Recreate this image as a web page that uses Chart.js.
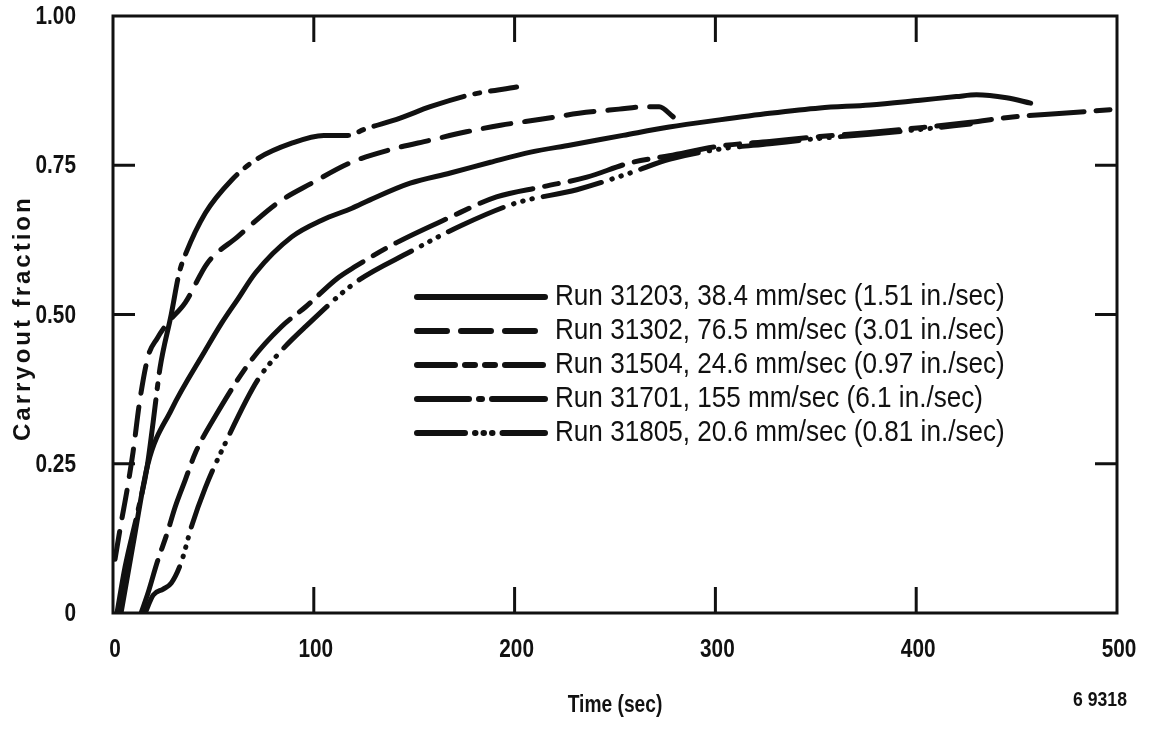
<!DOCTYPE html>
<html><head><meta charset="utf-8">
<script src="https://cdn.jsdelivr.net/npm/chart.js@4/dist/chart.umd.min.js"></script>
<style>html,body{margin:0;padding:0;background:#fff;} canvas{display:block;}</style>
</head><body>
<canvas id="c" width="1153" height="734"></canvas>
<script>
// ---- data ----
const xTickValues = [0, 100, 200, 300, 400, 500];
const xTickLabels = ['0', '100', '200', '300', '400', '500'];
const yTickValues = [0, 0.25, 0.5, 0.75, 1.0];
const yTickLabels = ['0', '0.25', '0.50', '0.75', '1.00'];
const xTitle = 'Time (sec)';
const yTitle = 'Carryout fraction';
const note = '6 9318';

const seriesLabels = [
  'Run 31203, 38.4 mm/sec (1.51 in./sec)',
  'Run 31302, 76.5 mm/sec (3.01 in./sec)',
  'Run 31504, 24.6 mm/sec (0.97 in./sec)',
  'Run 31701, 155 mm/sec (6.1 in./sec)',
  'Run 31805, 20.6 mm/sec (0.81 in./sec)'
];

const run31203_t = [4, 10, 17.4, 29, 46, 54, 62, 71, 89, 104, 119, 128, 148, 168, 188, 208, 228, 254, 277, 302, 327, 352, 377, 402, 420, 430, 445, 457];
const run31203_f = [0, 0.115, 0.25, 0.34, 0.44, 0.485, 0.525, 0.57, 0.63, 0.658, 0.678, 0.692, 0.72, 0.737, 0.755, 0.772, 0.784, 0.80, 0.814, 0.826, 0.837, 0.846, 0.851, 0.859, 0.865, 0.868, 0.863, 0.854];

const run31302_t = [1, 4, 7, 10, 13.4, 17.5, 22, 27, 36, 47, 62, 82, 99, 118, 138, 158, 176, 193, 213, 232, 252, 265, 272, 279];
const run31302_f = [0.09, 0.15, 0.206, 0.27, 0.357, 0.43, 0.46, 0.485, 0.52, 0.586, 0.63, 0.687, 0.72, 0.754, 0.776, 0.792, 0.806, 0.817, 0.827, 0.837, 0.844, 0.848, 0.848, 0.831];

const run31504_t = [14, 17.4, 22, 27, 31, 36, 41, 51, 69, 84, 96, 111.5, 120.5, 141, 166, 191, 214, 236, 257.5, 277, 302, 327, 352, 377, 402, 427, 448, 473, 500];
const run31504_f = [0, 0.033, 0.085, 0.134, 0.178, 0.223, 0.268, 0.33, 0.424, 0.48, 0.513, 0.56, 0.58, 0.62, 0.66, 0.697, 0.714, 0.73, 0.754, 0.766, 0.782, 0.79, 0.798, 0.805, 0.813, 0.822, 0.831, 0.837, 0.844];

const run31701_t = [2, 6, 12, 17, 20, 23.4, 29, 33, 36, 46, 59, 71, 89, 105, 117, 125, 143, 158, 178, 201];
const run31701_f = [0, 0.077, 0.165, 0.245, 0.32, 0.41, 0.50, 0.57, 0.60, 0.67, 0.725, 0.759, 0.787, 0.80, 0.80, 0.81, 0.829, 0.848, 0.868, 0.881];

const run31805_t = [16, 20, 25, 29, 34, 39, 46, 56, 72, 84, 96, 120.5, 148, 174, 201, 231, 257.5, 277, 302, 327, 352, 377, 402, 427];
const run31805_f = [0, 0.03, 0.04, 0.05, 0.085, 0.144, 0.21, 0.285, 0.39, 0.44, 0.48, 0.553, 0.605, 0.65, 0.687, 0.709, 0.737, 0.76, 0.777, 0.786, 0.795, 0.802, 0.81, 0.819];

// ---- chart ----
const FONT = "'Liberation Sans', Arial, Helvetica, sans-serif";
const INK = '#111';
function pts(t, f) { return t.map((v, i) => ({ x: v, y: f[i] })); }

const styles = [
  { dash: [], legendDash: [] },
  { dash: [28, 14], legendDash: [30, 14] },
  { dash: [55, 12, 14, 12], legendDash: [38, 10, 10, 10, 10, 10] },
  { dash: [95, 11, 5, 11], legendDash: [52, 10, 3, 10, 60] },
  { dash: [60, 11, 0.5, 9, 0.5, 9, 0.5, 11], legendDash: [48, 10, 0.5, 8, 0.5, 8, 0.5, 10, 60] }
];
const dataSets = [
  pts(run31203_t, run31203_f),
  pts(run31302_t, run31302_f),
  pts(run31504_t, run31504_f),
  pts(run31701_t, run31701_f),
  pts(run31805_t, run31805_f)
];

// condensed text (the figure uses a condensed Helvetica)
function cText(ctx, text, x, y, font, sx, align) {
  ctx.save();
  ctx.translate(x, y);
  ctx.scale(sx, 1);
  ctx.font = font;
  ctx.textAlign = align;
  ctx.textBaseline = 'middle';
  ctx.fillText(text, 0, 0);
  ctx.restore();
}

const framePlugin = {
  id: 'frame',
  afterDatasetsDraw(chart) {
    const { ctx, chartArea: a, scales: { x, y } } = chart;
    ctx.save();
    ctx.strokeStyle = INK;
    ctx.fillStyle = INK;
    ctx.lineWidth = 3;
    ctx.lineCap = 'butt';
    ctx.strokeRect(a.left, a.top, a.right - a.left, a.bottom - a.top);
    const L = 26;
    ctx.beginPath();
    xTickValues.slice(1, -1).forEach(v => {
      const px = x.getPixelForValue(v);
      ctx.moveTo(px, a.bottom); ctx.lineTo(px, a.bottom - L);
      ctx.moveTo(px, a.top); ctx.lineTo(px, a.top + L);
    });
    yTickValues.slice(1, -1).forEach(v => {
      const py = y.getPixelForValue(v);
      ctx.moveTo(a.left, py); ctx.lineTo(a.left + 22, py);
      ctx.moveTo(a.right, py); ctx.lineTo(a.right - 22, py);
    });
    ctx.stroke();

    // tick labels
    const tickFont = 'bold 26px ' + FONT;
    xTickValues.forEach((v, i) => {
      cText(ctx, xTickLabels[i], x.getPixelForValue(v) + 2, 650, tickFont, 0.8, 'center');
    });
    yTickValues.forEach((v, i) => {
      cText(ctx, yTickLabels[i], 76, y.getPixelForValue(v) + 1, tickFont, 0.8, 'right');
    });

    // legend
    const lx0 = 417, lx1 = 545, tx = 555, ly0 = 297, dy = 34;
    chart.data.datasets.forEach((ds, i) => {
      const yy = ly0 + i * dy;
      ctx.beginPath();
      ctx.lineWidth = 6;
      ctx.lineCap = 'round';
      ctx.setLineDash(styles[i].legendDash);
      ctx.moveTo(lx0, yy); ctx.lineTo(lx1, yy);
      ctx.stroke();
      ctx.setLineDash([]);
      cText(ctx, ds.label, tx, yy, '29px ' + FONT, 0.9, 'left');
    });

    // axis titles
    cText(ctx, xTitle, (a.left + a.right) / 2, 705, 'bold 24px ' + FONT, 0.8, 'center');
    ctx.save();
    ctx.translate(23, 441);
    ctx.rotate(-Math.PI / 2);
    ctx.textAlign = 'left';
    ctx.textBaseline = 'middle';
    ctx.font = 'bold 24px ' + FONT;
    ctx.letterSpacing = '3px';
    ctx.fillText(yTitle, 0, 0);
    ctx.restore();

    cText(ctx, note, 1100, 700, 'bold 20px ' + FONT, 0.88, 'center');
    ctx.restore();
  }
};

new Chart(document.getElementById('c'), {
  type: 'scatter',
  data: {
    datasets: dataSets.map((d, i) => ({
      label: seriesLabels[i],
      data: d,
      showLine: true,
      borderColor: INK,
      borderWidth: 5,
      borderDash: styles[i].dash,
      borderCapStyle: 'round',
      borderJoinStyle: 'round',
      pointRadius: 0,
      cubicInterpolationMode: 'monotone',
      fill: false
    }))
  },
  options: {
    responsive: false,
    animation: false,
    devicePixelRatio: 1,
    layout: { padding: { left: 0, top: 16, right: 36, bottom: 0 } },
    plugins: { legend: { display: false }, tooltip: { enabled: false } },
    scales: {
      x: {
        type: 'linear', min: 0, max: 500,
        afterFit: s => { s.height = 121; s.paddingLeft = 0; s.paddingRight = 0; },
        afterBuildTicks: s => { s.ticks = xTickValues.map(v => ({ value: v })); },
        grid: { display: false, drawTicks: false },
        border: { display: false },
        ticks: { display: false },
        title: { display: false }
      },
      y: {
        type: 'linear', min: 0, max: 1,
        afterFit: s => { s.width = 113; s.paddingTop = 0; s.paddingBottom = 0; },
        afterBuildTicks: s => { s.ticks = yTickValues.map(v => ({ value: v })); },
        grid: { display: false, drawTicks: false },
        border: { display: false },
        ticks: { display: false },
        title: { display: false }
      }
    }
  },
  plugins: [framePlugin]
});
</script>
</body></html>
